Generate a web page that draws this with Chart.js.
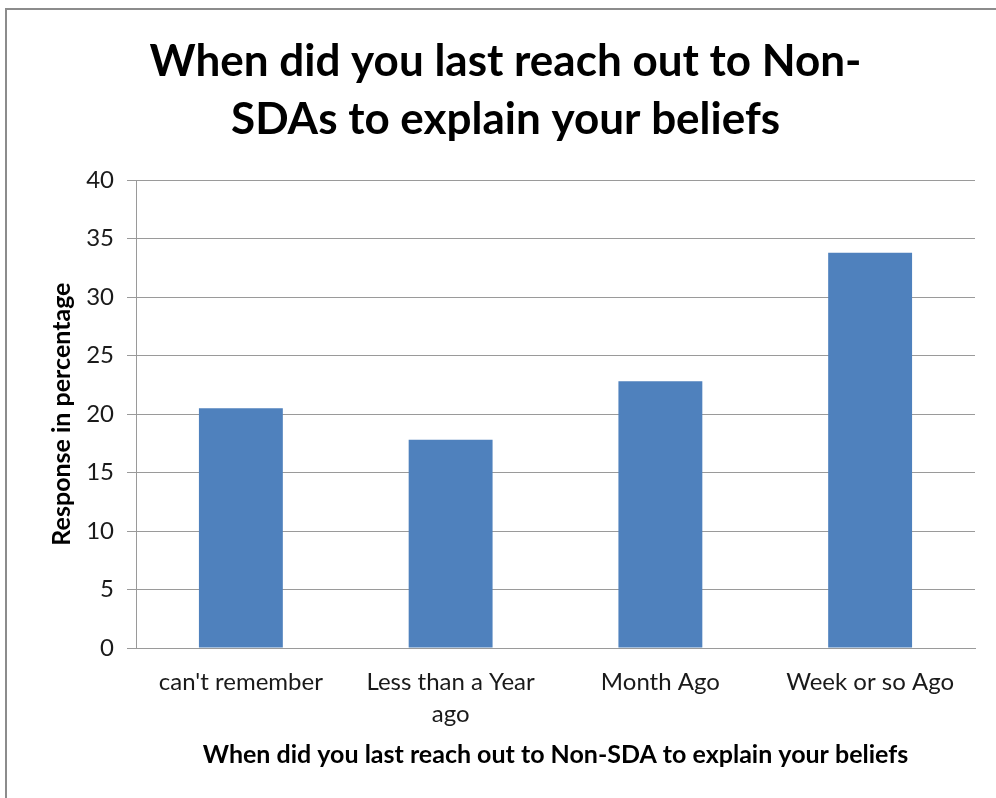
<!DOCTYPE html>
<html>
<head>
<meta charset="utf-8">
<script src="https://cdn.jsdelivr.net/npm/chart.js@4"></script>
<style>
  html, body { margin: 0; padding: 0; background: #fff; }
  #wrap { position: relative; width: 996px; height: 798px; overflow: hidden; }
  #frame { position: absolute; left: 5px; top: 8px; width: 1200px; height: 1200px;
           border-left: 2px solid #8c8c8c; border-top: 2px solid #8c8c8c; pointer-events: none; }
  canvas { position: absolute; left: 0; top: 0; }
</style>
</head>
<body>
<div id="wrap">
  <canvas id="c" width="996" height="798"></canvas>
  <div id="frame"></div>
</div>
<script>
const categories = ["can't remember", ["Less than a Year", "ago"], "Month Ago", "Week or so Ago"];
const responses = [20.5, 17.8, 22.8, 33.8];
const yMin = 0;
const yMax = 40;
const yStep = 5;
const chartTitle = ["When did you last reach out to Non-", "SDAs to explain your beliefs"];
const yTitle = "Response in percentage";
const xTitle = "When did you last reach out to Non-SDA to explain your beliefs";

const FONT = "Lato, 'Open Sans', sans-serif";

new Chart(document.getElementById('c'), {
  type: 'bar',
  data: {
    labels: categories,
    datasets: [{
      data: responses,
      backgroundColor: '#4F81BD',
      borderWidth: 0,
      barPercentage: 0.4,
      categoryPercentage: 1.0
    }]
  },
  options: {
    responsive: false,
    animation: false,
    devicePixelRatio: 1,
    layout: { padding: { left: 36, right: 21, top: 0, bottom: 0 } },
    plugins: {
      legend: { display: false },
      tooltip: { enabled: false },
      title: {
        display: true,
        text: chartTitle,
        color: '#000',
        font: { family: FONT, size: 44, weight: 'bold', lineHeight: 1.32 },
        padding: { top: 33, bottom: 31 }
      }
    },
    scales: {
      x: {
        grid: { display: false, drawTicks: false },
        border: { display: true, color: '#9a9a9a', width: 1 },
        ticks: { color: '#1a1a1a', font: { family: FONT, size: 24, lineHeight: 1.33 }, padding: 18, maxRotation: 0, autoSkip: false },
        title: { display: true, text: xTitle, color: '#000',
                 font: { family: FONT, size: 25, weight: 'bold', lineHeight: 1.2 },
                 padding: { top: 0, bottom: 28 } },
        afterFit: s => { s.height = 150; }
      },
      y: {
        min: yMin, max: yMax,
        ticks: { stepSize: yStep, color: '#1a1a1a', font: { family: FONT, size: 24 }, padding: 13 },
        grid: { color: '#9a9a9a', lineWidth: 1, drawTicks: true, tickLength: 9 },
        border: { display: true, color: '#9a9a9a', width: 1 },
        title: { display: true, text: yTitle, color: '#000',
                 font: { family: FONT, size: 25, weight: 'bold', lineHeight: 1.2 },
                 padding: { top: 11, bottom: 0 } },
        afterFit: s => { s.width = 100; }
      }
    }
  }
});
</script>
</body>
</html>
